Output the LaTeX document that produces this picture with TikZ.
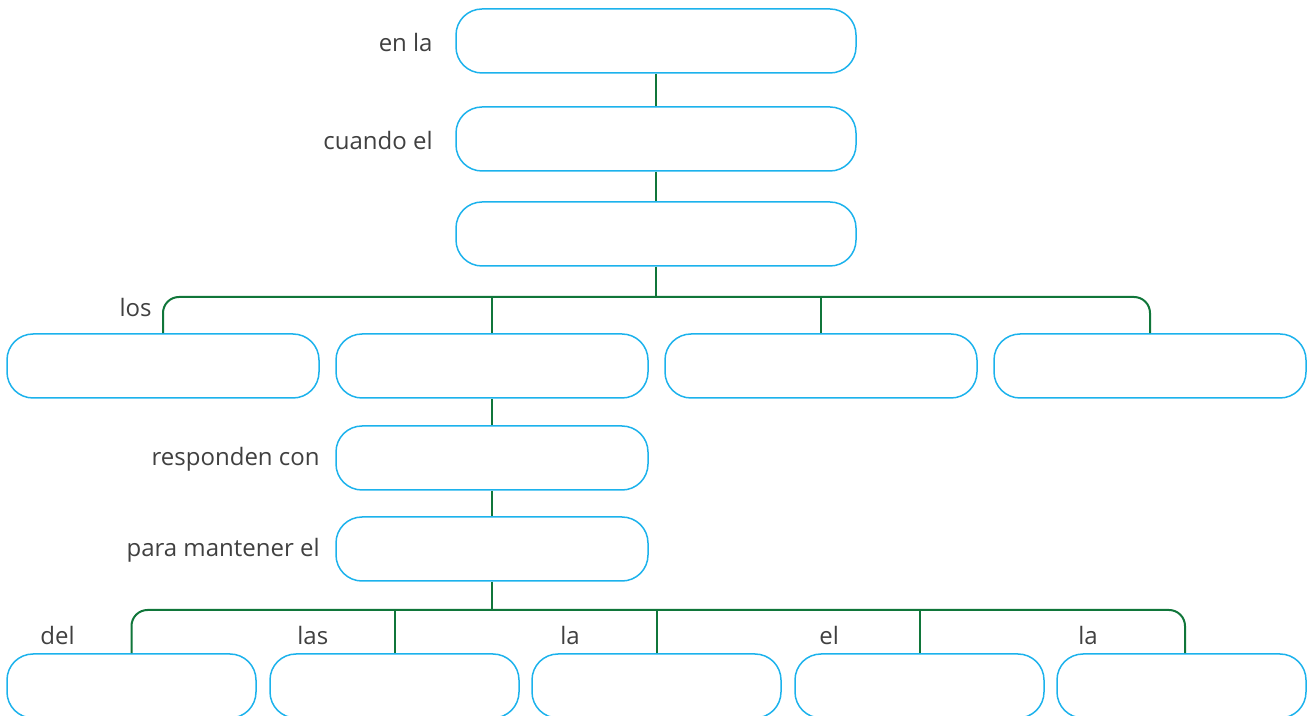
\documentclass[tikz,border=0pt]{standalone}
\usepackage{fontspec}
\setmainfont{Open Sans}
\definecolor{boxblue}{RGB}{28,178,236}
\definecolor{linkgreen}{RGB}{16,118,58}
\definecolor{labelgray}{RGB}{64,64,64}
\tikzset{
  blank/.style={draw=boxblue, line width=0.75pt, rounded corners=13pt, minimum height=32pt, inner sep=0pt},
  wide/.style={blank, minimum width=200pt},
  mid/.style={blank, minimum width=156pt},
  small/.style={blank, minimum width=124.5pt},
  link/.style={draw=linkgreen, line width=1pt},
  word/.style={text=labelgray, font=\fontsize{12}{14}\selectfont, inner sep=0pt}
}
\begin{document}
\begin{tikzpicture}[x=0.5pt, y=-0.5pt]
  \clip (0,0) rectangle (1308,716);
  % top chain
  \node[wide] (b1) at (656,41) {};
  \node[wide] (b2) at (656,139) {};
  \node[wide] (b3) at (656,234) {};
  \node[word, anchor=east] (t1) at (433,43) {en la};
  \node[word, anchor=east] (t2) at (433,141) {cuando el};
  \draw[link] (b1.south) -- (b2.north);
  \draw[link] (b2.south) -- (b3.north);
  % first row
  \node[mid] (r1) at (163,366) {};
  \node[mid] (r2) at (492,366) {};
  \node[mid] (r3) at (821,366) {};
  \node[mid] (r4) at (1150,366) {};
  \node[word, anchor=east] (t3) at (152,308) {los};
  \coordinate (bus1) at (656,297);
  \draw[link] (b3.south) -- (bus1);
  \draw[link, rounded corners=8pt] (r1.north) |- (bus1) -| (r4.north);
  \draw[link] (r2.north) -- (r2.north |- bus1);
  \draw[link] (r3.north) -- (r3.north |- bus1);
  % middle chain
  \node[mid] (m1) at (492,458) {};
  \node[mid] (m2) at (492,549) {};
  \node[word, anchor=east] (t4) at (320,459) {responden con};
  \node[word, anchor=east] (t5) at (320,550) {para mantener el};
  \draw[link] (r2.south) -- (m1.north);
  \draw[link] (m1.south) -- (m2.north);
  % bottom row
  \node[small] (s1) at (131.5,686) {};
  \node[small] (s2) at (394.5,686) {};
  \node[small] (s3) at (656.5,686) {};
  \node[small] (s4) at (919.5,686) {};
  \node[small] (s5) at (1181.5,686) {};
  \node[word, anchor=west] (t6) at (40,636) {del};
  \node[word, anchor=west] (t7) at (297,636) {las};
  \node[word, anchor=west] (t8) at (560,636) {la};
  \node[word, anchor=west] (t9) at (819,636) {el};
  \node[word, anchor=west] (t10) at (1078,636) {la};
  \coordinate (bus2) at (492,610);
  \coordinate (s5top) at ([xshift=1.75pt]s5.north);
  \draw[link] (m2.south) -- (bus2);
  \draw[link, rounded corners=8pt] (s1.north) |- (bus2) -| (s5top);
  \draw[link] (s2.north) -- (s2.north |- bus2);
  \draw[link] (s3.north) -- (s3.north |- bus2);
  \draw[link] (s4.north) -- (s4.north |- bus2);
\end{tikzpicture}
\end{document}
